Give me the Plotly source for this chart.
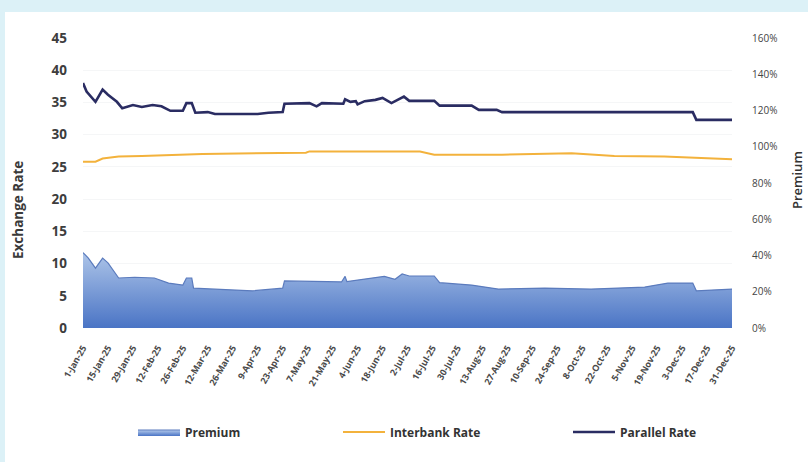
import plotly.graph_objects as go

# Parallel (market) exchange rate
parallel_dates = [
    "2025-01-01", "2025-01-03", "2025-01-08", "2025-01-12", "2025-01-15",
    "2025-01-20", "2025-01-23", "2025-01-29", "2025-02-03", "2025-02-09",
    "2025-02-14", "2025-02-19", "2025-02-26", "2025-02-28", "2025-03-03",
    "2025-03-05", "2025-03-12", "2025-03-16", "2025-04-09", "2025-04-15",
    "2025-04-23", "2025-04-24", "2025-05-08", "2025-05-12", "2025-05-15",
    "2025-05-27", "2025-05-28", "2025-05-31", "2025-06-03", "2025-06-04",
    "2025-06-08", "2025-06-14", "2025-06-18", "2025-06-23", "2025-06-30",
    "2025-07-03", "2025-07-17", "2025-07-20", "2025-08-07", "2025-08-11",
    "2025-08-21", "2025-08-24", "2025-12-09", "2025-12-11", "2025-12-31",
]
parallel_rate = [
    38.0, 36.7, 35.1, 37.0, 36.2,
    35.1, 34.1, 34.6, 34.3, 34.6,
    34.4, 33.7, 33.7, 34.9, 34.9,
    33.4, 33.5, 33.2, 33.2, 33.4,
    33.5, 34.8, 34.9, 34.4, 34.9,
    34.8, 35.5, 35.1, 35.2, 34.7,
    35.2, 35.4, 35.7, 34.9, 35.9,
    35.25, 35.25, 34.5, 34.5, 33.85,
    33.85, 33.5, 33.5, 32.3, 32.3,
]

# Official interbank exchange rate
interbank_dates = [
    "2025-01-01", "2025-01-08", "2025-01-12", "2025-01-21", "2025-02-03",
    "2025-03-09", "2025-05-06", "2025-05-08", "2025-07-09", "2025-07-17",
    "2025-08-24", "2025-10-02", "2025-10-26", "2025-11-23", "2025-12-31",
]
interbank_rate = [
    25.8, 25.8, 26.3, 26.6, 26.7,
    27.0, 27.2, 27.4, 27.4, 26.9,
    26.9, 27.1, 26.7, 26.6, 26.2,
]

# Parallel-market premium over the interbank rate, in percent
premium_dates = [
    "2025-01-01", "2025-01-04", "2025-01-08", "2025-01-12", "2025-01-15",
    "2025-01-21", "2025-01-30", "2025-02-10", "2025-02-18", "2025-02-26",
    "2025-02-28", "2025-03-03", "2025-03-04", "2025-03-16", "2025-04-06",
    "2025-04-23", "2025-04-24", "2025-05-26", "2025-05-28", "2025-05-29",
    "2025-06-14", "2025-06-19", "2025-06-25", "2025-06-29", "2025-07-03",
    "2025-07-17", "2025-07-20", "2025-08-07", "2025-08-22", "2025-09-17",
    "2025-10-13", "2025-11-12", "2025-11-25", "2025-12-09", "2025-12-11",
    "2025-12-31",
]
premium_pct = [
    41.6, 38.6, 33.0, 38.6, 35.9,
    27.6, 28.0, 27.6, 24.8, 23.7,
    27.6, 27.6, 22.0, 21.5, 20.5,
    22.0, 26.0, 25.4, 28.5, 25.6,
    27.6, 28.5, 26.9, 29.8, 28.7,
    28.7, 25.0, 23.7, 21.5, 22.0,
    21.5, 22.6, 24.8, 24.8, 20.5,
    21.5,
]

rate_ticks = [0, 5, 10, 15, 20, 25, 30, 35, 40, 45]
premium_ticks = [0, 20, 40, 60, 80, 100, 120, 140, 160]
premium_tick_text = [f"{v}%" for v in premium_ticks]

BG = "#dcf1f7"
NAVY = "#2a2c62"
AMBER = "#f3b23c"
FONT = "Open Sans"

# plot area in pixels: x 83..732, y 38..328
L, R, T, B = 83, 76, 38, 134
PW, PH = 808 - L - R, 462 - T - B


def px_x(p):
    return (p - L) / PW


def px_y(p):
    return (462 - B - p) / PH


fig = go.Figure()

fig.add_trace(go.Scatter(
    x=premium_dates, y=premium_pct, name="Premium", yaxis="y2",
    mode="lines", fill="tozeroy", legend="legend",
    line=dict(color="#5b7bbd", width=1.2),
    fillgradient=dict(type="vertical", start=0, stop=45,
                      colorscale=[[0, "#4a74c5"], [1, "#b5cbeb"]]),
))
fig.add_trace(go.Scatter(
    x=interbank_dates, y=interbank_rate, name="Interbank Rate",
    mode="lines", legend="legend2", line=dict(color=AMBER, width=2),
))
fig.add_trace(go.Scatter(
    x=parallel_dates, y=parallel_rate, name="Parallel Rate",
    mode="lines", legend="legend3", line=dict(color=NAVY, width=2.6),
))

legend_style = dict(
    orientation="h", yanchor="middle", y=px_y(432), xanchor="left",
    itemwidth=42, bgcolor="rgba(0,0,0,0)",
    font=dict(family=FONT, size=12, color="#333333", weight="bold"),
)

fig.update_layout(
    width=808, height=462,
    margin=dict(l=L, r=R, t=T, b=B),
    paper_bgcolor=BG,
    plot_bgcolor="rgba(0,0,0,0)",
    showlegend=True,
    legend=dict(legend_style, x=px_x(133)),
    legend2=dict(legend_style, x=px_x(338)),
    legend3=dict(legend_style, x=px_x(568)),
    xaxis=dict(
        type="date",
        range=["2025-01-01", "2025-12-31"],
        tick0="2025-01-01", dtick=14 * 86400000,
        tickformat="%-d-%b-%y", tickangle=-60,
        tickfont=dict(family=FONT, size=9, color="#4a4a4a", weight="bold"),
        ticklabelstandoff=12,
        showgrid=False, zeroline=False, showline=False, ticks="",
    ),
    yaxis=dict(
        range=[0, 45], tickvals=rate_ticks,
        tickfont=dict(family=FONT, size=13.5, color="#3d3d3d", weight="bold"),
        ticklabelstandoff=15,
        showgrid=True, gridcolor="#f5f6f7", gridwidth=1,
        zeroline=False, showline=False, ticks="",
    ),
    yaxis2=dict(
        range=[0, 160], tickvals=premium_ticks, ticktext=premium_tick_text,
        overlaying="y", side="right",
        tickfont=dict(family=FONT, size=10, color="#444444"),
        ticklabelstandoff=19,
        showgrid=False, zeroline=False, showline=False, ticks="",
    ),
    shapes=[
        # white card behind the chart
        dict(type="rect", xref="paper", yref="paper", layer="below",
             x0=px_x(5), x1=px_x(830), y0=px_y(480), y1=px_y(12),
             fillcolor="white", line=dict(width=0)),
    ],
    annotations=[
        dict(text="Exchange Rate", xref="paper", yref="paper",
             x=px_x(18), y=px_y(210), xanchor="center", yanchor="middle",
             textangle=-90, showarrow=False,
             font=dict(family=FONT, size=13.5, color="#3a3a3a", weight="bold")),
        dict(text="Premium", xref="paper", yref="paper",
             x=px_x(797), y=px_y(180), xanchor="center", yanchor="middle",
             textangle=-90, showarrow=False,
             font=dict(family=FONT, size=13, color="#333333", weight=600)),
    ],
)

fig.write_html("out.html")
